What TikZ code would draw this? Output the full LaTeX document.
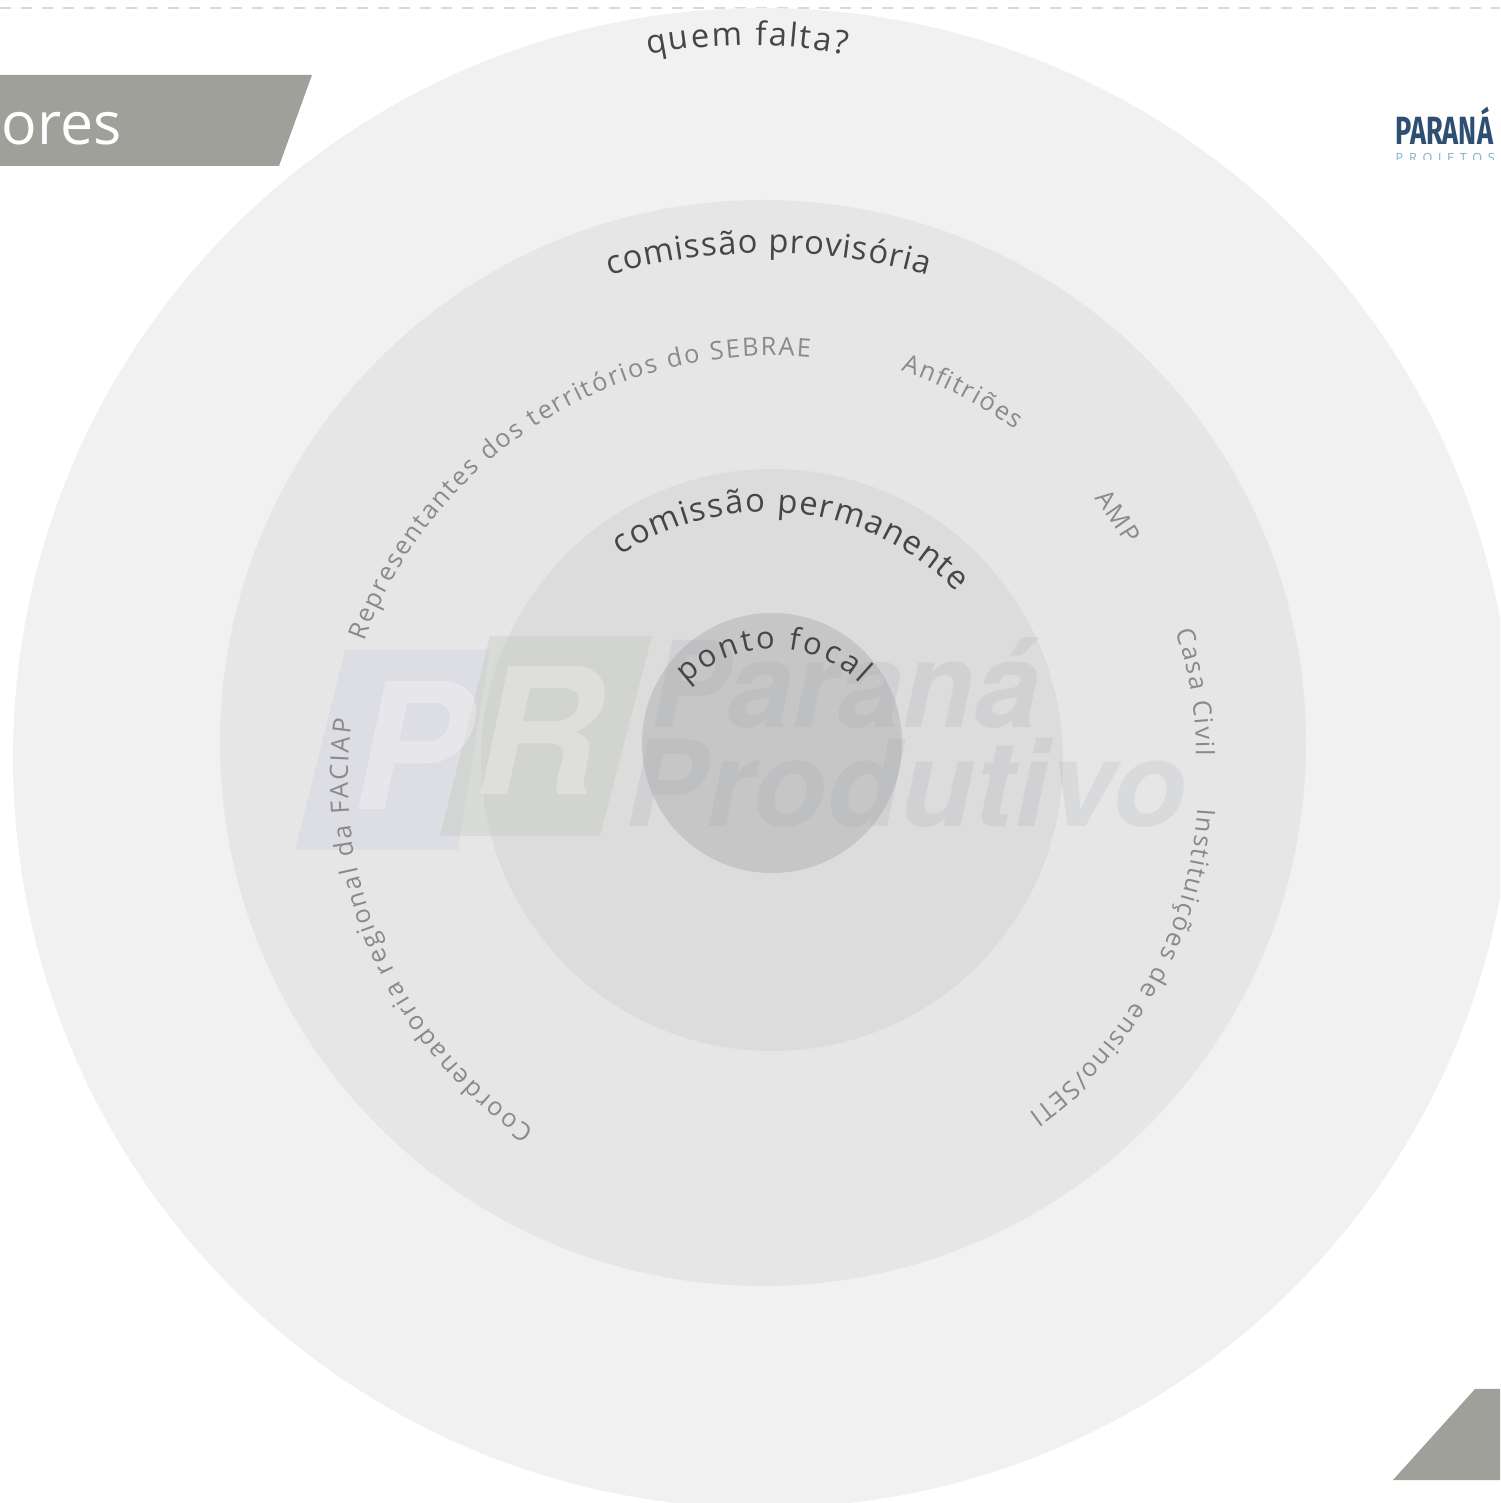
\documentclass[tikz,border=0pt]{standalone}
\usepackage{fontspec}
\usetikzlibrary{decorations.text}
\setmainfont{Open Sans}
\newfontfamily\markfont{TeX Gyre Heros}
\newfontfamily\brandfont{Fira Sans}
\newfontfamily\subbrandfont[LetterSpace=45]{Open Sans}
\definecolor{ringA}{HTML}{F1F1F1}
\definecolor{ringB}{HTML}{E6E6E6}
\definecolor{ringC}{HTML}{DCDCDC}
\definecolor{ringD}{HTML}{C6C6C6}
\definecolor{bandgray}{HTML}{A0A09B}
\definecolor{darktext}{HTML}{464646}
\definecolor{softtext}{HTML}{8A8A8A}
\definecolor{brandblue}{HTML}{2F4F72}
\definecolor{brandsky}{HTML}{7FB0C8}
\definecolor{markblue}{HTML}{C9CAE1}
\definecolor{markgreen}{HTML}{BCC3B2}
\definecolor{markslate}{HTML}{9498A8}
\newcommand{\ringhead}{\fontsize{9.3}{11}\selectfont\color{darktext}}
\newcommand{\ringfocal}{\fontsize{8.8}{10}\selectfont\color{darktext}}
\newcommand{\ringname}{\fontsize{7.2}{9}\selectfont\color{softtext}}
\tikzset{
	arctext/.style={decorate, decoration={text along path, text={#1}, text align=fit to path}},
	markbox/.style={fill=#1, fill opacity=.3},
	markword/.style={anchor=base west, inner sep=0pt, text=markslate, text opacity=.15, font=\markfont\bfseries\itshape\fontsize{34}{36}\selectfont},
	markletter/.style={anchor=base west, inner sep=0pt, text=white, text opacity=.28, font=\markfont\bfseries\itshape\fontsize{50}{52}\selectfont}
}
\begin{document}
\begin{tikzpicture}
	\clip (0,0) rectangle (15,15.03);
	
	% Top dashed rule
	\draw[dash pattern=on 1.1mm off 1mm, line width=.6pt, color=black!15] (0,14.95) -- (15,14.95);
	
	% Rings
	\coordinate (ctrA) at (7.63,7.45);
	\coordinate (ctrB) at (7.63,7.60);
	\coordinate (ctrC) at (7.72,7.43);
	\coordinate (ctrD) at (7.72,7.60);
	\fill[ringA] (ctrA) circle (7.5);
	\fill[ringB] (ctrB) circle (5.43);
	\fill[ringC] (ctrC) circle (2.91);
	\fill[ringD] (ctrD) circle (1.30);
	
	% Title band and corner
	\fill[bandgray] (0,13.37) -- (2.79,13.37) -- (3.12,14.28) -- (0,14.28) -- cycle;
	\fill[bandgray] (13.93,.23) -- (14.75,1.14) -- (15,1.14) -- (15,.23) -- cycle;
	\node[anchor=base west, inner sep=0pt, text=white, font=\fontsize{16.8}{19}\selectfont] (title) at (-.20,13.58) {tores};
	
	% Logo
	\node[anchor=base west, inner sep=0pt, xscale=.69, text=brandblue, font=\brandfont\bfseries\fontsize{11.2}{12}\selectfont] (brand) at (13.95,13.58) {PARANÁ};
	\begin{scope}
		\clip (13.9,13.43) rectangle (15,13.55);
		\node[anchor=base west, inner sep=0pt, text=brandsky, font=\subbrandfont\fontsize{3.6}{4}\selectfont] (subbrand) at (13.95,13.40) {PROJETOS};
	\end{scope}
	
	% Watermark
	\fill[markbox=markblue] (3.45,8.53) -- (4.90,8.53) -- (4.58,6.53) -- (2.95,6.53) -- cycle;
	\fill[markbox=markgreen] (4.90,8.67) -- (6.52,8.67) -- (6.00,6.67) -- (4.40,6.67) -- cycle;
	\node[markletter] (markP) at (3.52,6.93) {P};
	\node[markletter] (markR) at (4.74,7.08) {R};
	\node[markword, xscale=.98] (markParana) at (6.50,7.75) {Paraná};
	\node[markword, xscale=1.012] (markProd) at (6.25,6.76) {Produtivo};
	
	% Ring titles
	\path[arctext={|\ringhead|quem falta?}] ([shift={(101.4:5.05)}]7.48,9.53) arc[start angle=101.4, end angle=78.8, radius=5.05];
	\path[arctext={|\ringhead|comissão provisória}] ([shift={(105.8:5.85)}]7.69,6.65) arc[start angle=105.8, end angle=74.2, radius=5.85];
	\path[arctext={|\ringhead|comissão permanente}] ([shift={(123.5:2.65)}]7.67,7.26) arc[start angle=123.5, end angle=44.2, radius=2.65];
	\path[arctext={|\ringfocal|ponto focal}] ([shift={(134:1.25)}]7.74,7.29) arc[start angle=134, end angle=46.5, radius=1.25];
	
	% Names around the ring
	\path[arctext={|\ringname|Representantes dos territórios do SEBRAE}] ([shift={(159.8:4.365)}]7.74,7.11) arc[start angle=159.8, end angle=85.3, radius=4.365];
	\path[arctext={|\ringname|Anfitriões}] ([shift={(71.7:4.10)}]7.72,7.43) arc[start angle=71.7, end angle=53.6, radius=4.10];
	\path[arctext={|\ringname|AMP}] ([shift={(39.1:4.15)}]7.72,7.43) arc[start angle=39.1, end angle=31.2, radius=4.15];
	\path[arctext={|\ringname|Casa Civil}] ([shift={(18.9:3.76)}]8.20,7.50) arc[start angle=18.9, end angle=-.5, radius=3.76];
	\path[arctext={|\ringname|Instituições de ensino/SETI}] ([shift={(-3.4:4.05)}]7.93,7.19) arc[start angle=-3.4, end angle=-54.5, radius=4.05];
	\path[arctext={|\ringname|Coordenadoria regional da FACIAP}] ([shift={(236:4.23)}]7.71,7.24) arc[start angle=236, end angle=172, radius=4.23];
\end{tikzpicture}
\end{document}
